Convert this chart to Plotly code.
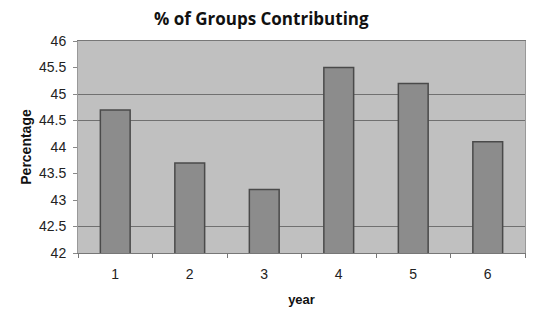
import plotly.graph_objects as go

years = ["1", "2", "3", "4", "5", "6"]
percent = [44.7, 43.7, 43.2, 45.5, 45.2, 44.1]
grid_vals = [42.5, 44.5, 45]
y_ticks = [42, 42.5, 43, 43.5, 44, 44.5, 45, 45.5, 46]
y_labels = ["42", "42.5", "43", "43.5", "44", "44.5", "45", "45.5", "46"]

font_fam = "Liberation Sans, Arial, sans-serif"

fig = go.Figure()
fig.add_trace(go.Bar(
    x=years, y=percent, width=0.4,
    marker=dict(color="#8c8c8c", line=dict(color="#4a4a4a", width=1.5)),
    showlegend=False,
))
fig.add_trace(go.Scatter(x=[None], y=[None], yaxis="y2", showlegend=False, hoverinfo="skip"))

W, H = 532, 310
fig.update_layout(
    template="none",
    width=W, height=H,
    margin=dict(l=70, r=15, t=33, b=65),
    paper_bgcolor="white",
    plot_bgcolor="#c0c0c0",
    title=dict(text="<b>% of Groups Contributing</b>", x=0.41, xref="paper", xanchor="center",
               y=1 - 11 / H, yref="container", yanchor="middle",
               font=dict(family="Open Sans, sans-serif", size=17, color="#111")),
    xaxis=dict(
        type="category", range=[-0.5, 5.5], automargin=False,
        showgrid=False, ticks="outside", tickson="boundaries", ticklen=4, tickcolor="#777",
        ticklabelstandoff=8,
        showline=True, linecolor="#777", linewidth=1, mirror=True,
        tickfont=dict(family=font_fam, size=14, color="#222"),
        title=dict(text="<b>year</b>", font=dict(family=font_fam, size=13, color="#111"), standoff=14),
    ),
    yaxis=dict(
        range=[42, 46], tickvals=grid_vals, showticklabels=False, automargin=False,
        showgrid=True, gridcolor="#707070", gridwidth=1, zeroline=False,
        showline=True, linecolor="#999", mirror=True, ticks="",
    ),
    yaxis2=dict(
        range=[42, 46], tickvals=y_ticks, ticktext=y_labels, overlaying="y", side="left",
        automargin=False, showgrid=False, zeroline=False,
        ticks="outside", ticklen=4, tickcolor="#888", ticklabelstandoff=4,
        tickfont=dict(family=font_fam, size=14, color="#222"),
        title=dict(text="<b>Percentage</b>", font=dict(family=font_fam, size=14, color="#111"), standoff=4),
    ),
)
fig.write_html("out.html")
